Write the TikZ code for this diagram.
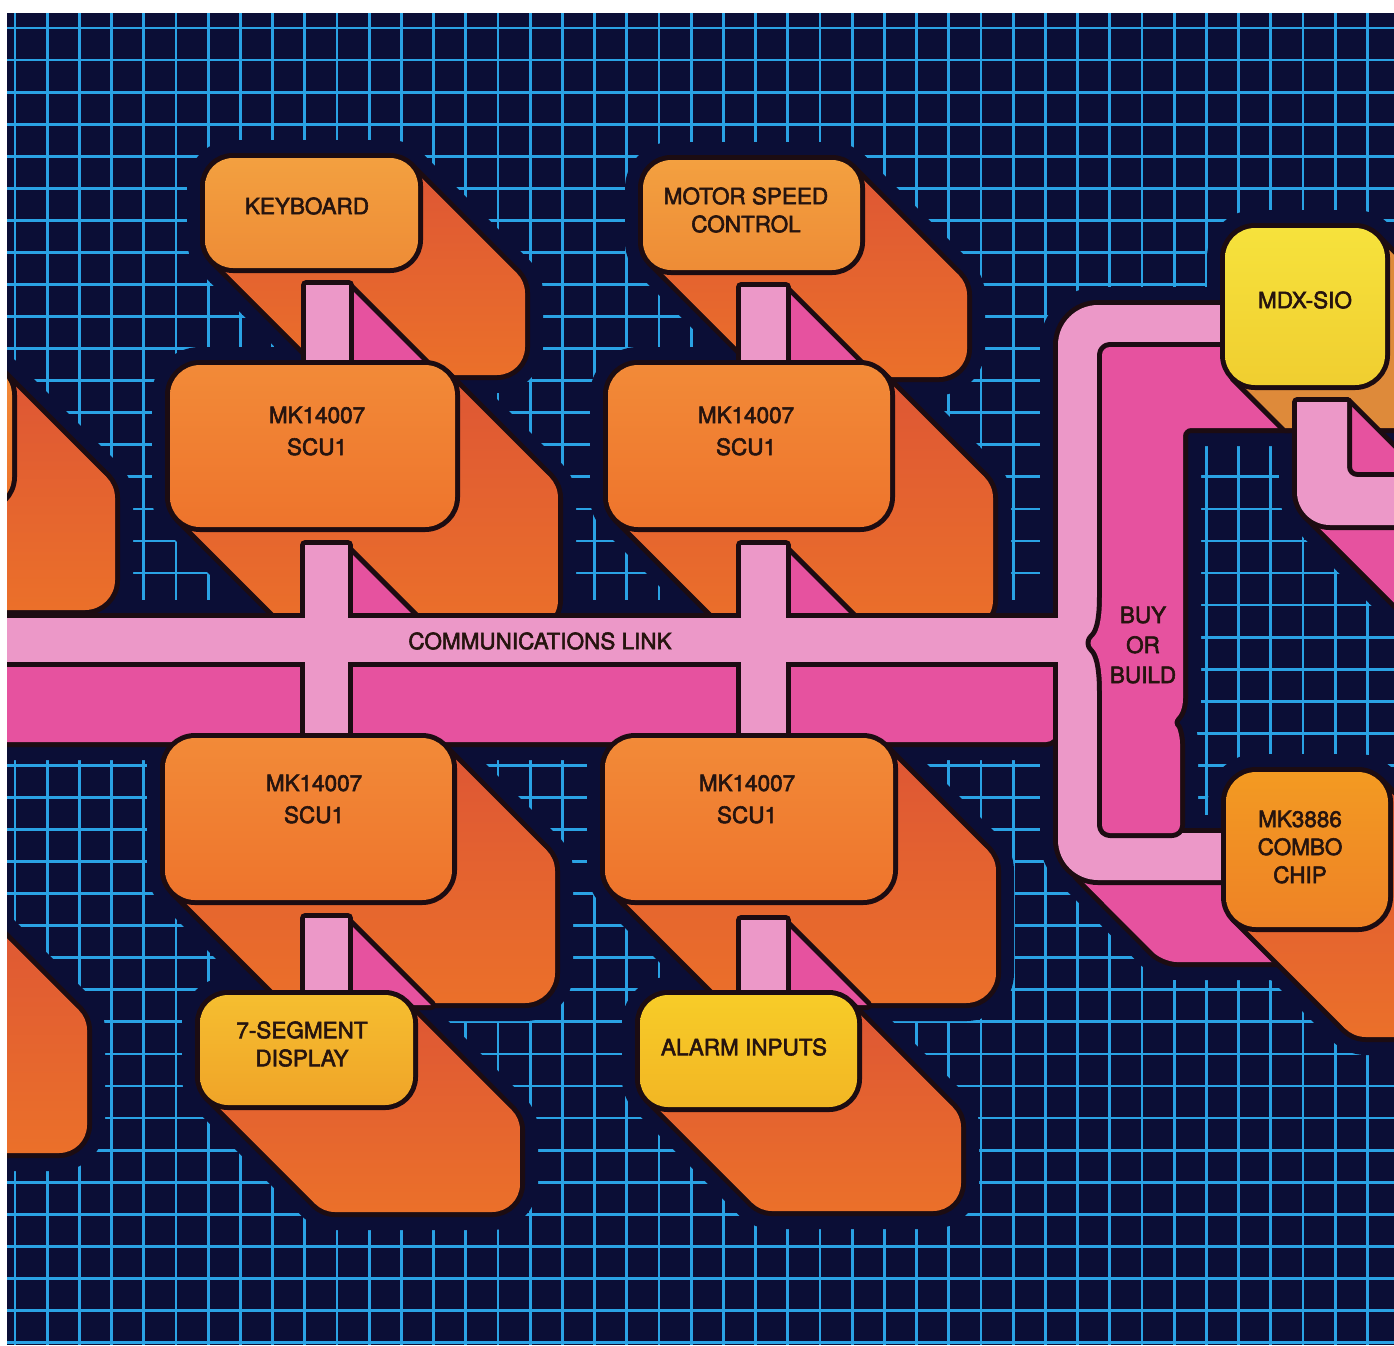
\documentclass[tikz,border=0pt]{standalone}
\usepackage{fontspec}
\setmainfont{TeX Gyre Heros}[FakeBold=2.5]
\definecolor{navy}{HTML}{0B0E36}
\definecolor{gridc}{HTML}{2AA2E4}
\definecolor{outc}{HTML}{1C0C12}
\definecolor{textc}{HTML}{26140F}
\definecolor{shadA}{HTML}{DD5535}
\definecolor{shadB}{HTML}{EB702A}
\definecolor{mdxshad}{HTML}{DE8A3A}
\definecolor{lpink}{HTML}{EC98C8}
\definecolor{magc}{HTML}{E6529F}
\definecolor{mkA}{HTML}{F28A38}
\definecolor{mkB}{HTML}{EE742C}
\definecolor{kbA}{HTML}{F3A040}
\definecolor{kbB}{HTML}{EE8C36}
\definecolor{segA}{HTML}{F5BE30}
\definecolor{segB}{HTML}{F0A428}
\definecolor{alA}{HTML}{F7CC28}
\definecolor{alB}{HTML}{F2B624}
\definecolor{mdxA}{HTML}{F6E23C}
\definecolor{mdxB}{HTML}{F0CE30}
\definecolor{coA}{HTML}{F39A22}
\definecolor{coB}{HTML}{EE8226}
\tikzset{
  outl/.style={draw=outc, line width=10pt, line join=round},
  halo/.style={draw=navy, line width=36pt, line join=round},
  gridl/.style={draw=gridc, line width=2.8pt},
  shadfill/.style={top color=shadA, bottom color=shadB},
  mkfill/.style={top color=mkA, bottom color=mkB},
  kbfill/.style={top color=kbA, bottom color=kbB},
  segfill/.style={top color=segA, bottom color=segB},
  alarmfill/.style={top color=alA, bottom color=alB},
  mdxfill/.style={top color=mdxA, bottom color=mdxB},
  combofill/.style={top color=coA, bottom color=coB},
  txt/.style={text=textc, align=center, inner sep=0pt, font=\fontsize{22.5}{28}\selectfont},
  txtmk/.style={txt, font=\fontsize{22.5}{32}\selectfont},
}
\newif\ifhalo
\newcommand\Strk[1]{\ifhalo\draw[halo] #1;\else\draw[outl] #1;\fi}
\newcommand\Fll[2]{\ifhalo\else\fill[#1] #2;\fi}
\newcommand\Obj[2]{\Strk{#2}\Fll{#1}{#2}}
% clip to a part, then shade one common rectangle (same gradient on all parts)
\newcommand\ClipShade[2]{\ifhalo\else\begin{scope}\clip #1; \shade[shadfill] #2; \end{scope}\fi}
\newcommand\FrontBox[6]{\Obj{#6}{[rounded corners=#5pt] (#1,#2) rectangle (#3,#4)}}
\newcommand\ExtShadow[6]{%
  \Strk{[rounded corners=#5pt] ({#1+#6},{#2+#6}) rectangle ({#3+#6},{#4+#6})}%
  \Strk{({#3-0.2929*#5},{#2+0.2929*#5}) -- ({#3-0.2929*#5+#6},{#2+0.2929*#5+#6}) -- ({#1+0.2929*#5+#6},{#4-0.2929*#5+#6}) -- ({#1+0.2929*#5},{#4-0.2929*#5}) -- cycle}%
  \ClipShade{[rounded corners=#5pt] ({#1+#6},{#2+#6}) rectangle ({#3+#6},{#4+#6})}{(#1,#2) rectangle ({#3+#6},{#4+#6})}%
  \ClipShade{({#3-0.2929*#5},{#2+0.2929*#5}) -- ({#3-0.2929*#5+#6},{#2+0.2929*#5+#6}) -- ({#1+0.2929*#5+#6},{#4-0.2929*#5+#6}) -- ({#1+0.2929*#5},{#4-0.2929*#5}) -- cycle}{(#1,#2) rectangle ({#3+#6},{#4+#6})}%
}
\newcommand\AllShapes{%
  % column 0 (cut by the left edge)
  \ExtShadow{-300}{365}{12}{507}{30}{103}
  \FrontBox{-300}{365}{12}{507}{30}{mkfill}
  \ExtShadow{-300}{897}{-18}{1048}{28}{105}
  % column 1, upper
  \ExtShadow{205}{158}{418}{268}{28}{107}
  \FrontBox{205}{158}{418}{268}{28}{kbfill}
  \Obj{magc}{(349,287) -- (349,372) -- (434,372) -- cycle}
  \Obj{lpink}{(306,285) rectangle (349,372)}
  \ExtShadow{170}{365}{455}{527}{30}{103}
  \FrontBox{170}{365}{455}{527}{30}{mkfill}
  % column 2, upper
  \ExtShadow{643}{160}{860}{270}{28}{107}
  \FrontBox{643}{160}{860}{270}{28}{kbfill}
  \Obj{magc}{(786,290) -- (786,372) -- (868,372) -- cycle}
  \Obj{lpink}{(741,287) rectangle (786,372)}
  \ExtShadow{608}{365}{890}{527}{30}{103}
  \FrontBox{608}{365}{890}{527}{30}{mkfill}
  % side faces of the connectors into the link
  \Obj{magc}{(348,550) -- (348,630) -- (428,630) -- cycle}
  \Obj{magc}{(786,550) -- (786,630) -- (866,630) -- cycle}
  % lower face of the communications link
  \Obj{magc}{[rounded corners=10pt] (-20,650) rectangle (1056,742)}
  % lower face of the bracket
  \Obj{magc}{[rounded corners=14pt] (1069.7,868.3) -- (1163,962) -- (1300,962) -- (1300,868) -- cycle}
  % light pink front faces (one joined shape)
  \Strk{(-20,618) rectangle (1080,662)}
  \Strk{[rounded corners=40pt] (1300,305) -- (1058,305) -- (1058,880) -- (1300,880) -- (1300,833) -- (1120,833) -- (1120,347) -- (1300,347) -- cycle}
  \Strk{(305,545) rectangle (348,640)}
  \Strk{(741,545) rectangle (786,640)}
  \Strk{(305,640) rectangle (348,760)}
  \Strk{(741,640) rectangle (786,760)}
  \Fll{lpink}{(-20,618) rectangle (1080,662)}
  \Fll{lpink}{[rounded corners=40pt] (1300,305) -- (1058,305) -- (1058,880) -- (1300,880) -- (1300,833) -- (1120,833) -- (1120,347) -- (1300,347) -- cycle}
  \Fll{lpink}{(305,545) rectangle (348,640)}
  \Fll{lpink}{(741,545) rectangle (786,640)}
  \Fll{lpink}{(305,640) rectangle (348,760)}
  \Fll{lpink}{(741,640) rectangle (786,760)}
  % inner face of the bracket, with the brace
  \Obj{magc}{[rounded corners=8pt] (1102,347) -- (1250,347) -- (1250,380) -- (1298,428) -- (1183,428) -- (1183,690) .. controls (1183,712) and (1177,717) .. (1171,723) .. controls (1177,728) and (1180,735) .. (1180,752) -- (1180,833) -- (1102,833) -- (1102,700) .. controls (1102,662) and (1097,652) .. (1087,643) .. controls (1097,634) and (1102,626) .. (1102,588) -- cycle}
  % MDX-SIO shadow and its connector
  \Obj{mdxshad}{(1234,377) -- (1285,428) -- (1420,428) -- (1420,281) -- (1376,237) -- cycle}
  \Obj{magc}{(1347,402) -- (1420,475) -- (1420,482) -- (1347,482) -- cycle}
  \Obj{magc}{(1306.7,515.3) -- (1420,628.6) -- (1420,520) -- cycle}
  \Obj{lpink}{(1297,402) -- (1347,402) -- (1347,467) .. controls (1347,472.5) and (1351.5,477) .. (1357,477) -- (1420,477) -- (1420,525) -- (1330,525) .. controls (1311.8,525) and (1297,510.2) .. (1297,492) -- cycle}
  \FrontBox{1225}{228}{1385}{385}{30}{mdxfill}
  % MK3886
  \ExtShadow{1226}{772}{1388}{927}{30}{110}
  \FrontBox{1226}{772}{1388}{927}{30}{combofill}
  % column 1, lower
  \ExtShadow{165}{738}{452}{900}{30}{103}
  \FrontBox{165}{738}{452}{900}{30}{mkfill}
  \Obj{magc}{(348,922) -- (348,1005) -- (431,1005) -- cycle}
  \Obj{lpink}{(305,918) rectangle (348,1005)}
  \ExtShadow{200}{995}{413}{1105}{28}{107}
  \FrontBox{200}{995}{413}{1105}{28}{segfill}
  % column 2, lower
  \ExtShadow{605}{738}{893}{900}{30}{103}
  \FrontBox{605}{738}{893}{900}{30}{mkfill}
  \Obj{magc}{(786,924) -- (786,1005) -- (867,1005) -- cycle}
  \Obj{lpink}{(741,920) rectangle (786,1005)}
  \ExtShadow{640}{995}{857}{1107}{28}{104}
  \FrontBox{640}{995}{857}{1107}{28}{alarmfill}
}
\begin{document}
\begin{tikzpicture}[x=1pt, y=-1pt]
\useasboundingbox (0,0) rectangle (1394,1345);
\fill[white] (0,0) rectangle (1394,1345);
\begin{scope}
  \clip (7,13) rectangle (1394,1345);
  \fill[navy] (7,13) rectangle (1394,1345);
  \foreach \i in {0,...,43} \draw[gridl] ({15+32.2*\i},13) -- ({15+32.2*\i},1345);
  \foreach \j in {0,...,41} \draw[gridl] (7,{28+32.06*\j}) -- (1394,{28+32.06*\j});
  \halotrue
  \AllShapes
  \halofalse
  \AllShapes
\end{scope}
\node[txt] (kb) at (307,206) {KEYBOARD};
\node[txt] (motor) at (746,210) {MOTOR SPEED\\CONTROL};
\node[txtmk] (scuA) at (317,431) {MK14007\\SCU1};
\node[txtmk] (scuB) at (746,431) {MK14007\\SCU1};
\node[txt] (link) at (540,641) {COMMUNICATIONS LINK};
\node[txtmk] (scuC) at (314,799) {MK14007\\SCU1};
\node[txtmk] (scuD) at (747,799) {MK14007\\SCU1};
\node[txt] (seg) at (302,1044) {7-SEGMENT\\DISPLAY};
\node[txt] (alarm) at (744,1047) {ALARM INPUTS};
\node[txt] (mdx) at (1305,300) {MDX-SIO};
\node[txt] (combo) at (1300,847) {MK3886\\COMBO\\CHIP};
\node[txt, font=\fontsize{22.5}{30}\selectfont] (buy) at (1143,645) {BUY\\OR\\BUILD};
\end{tikzpicture}
\end{document}
